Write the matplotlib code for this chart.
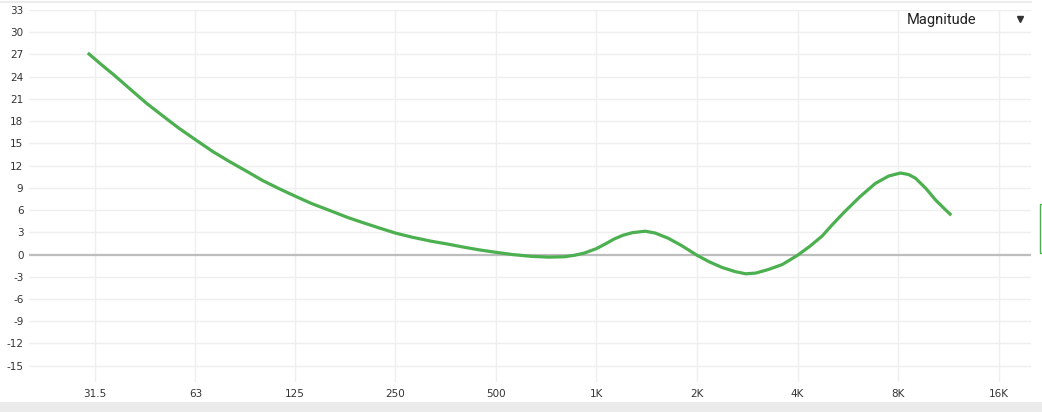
import numpy as np
import matplotlib
matplotlib.use("Agg")
from matplotlib import pyplot as plt
from matplotlib.lines import Line2D
from matplotlib.patches import Rectangle

# frequency response (Hz, dB)
freq = [30, 33, 36, 40, 45, 50, 56, 63, 71, 80, 90, 100, 112, 125, 140, 160,
        180, 200, 225, 250, 280, 320, 360, 400, 450, 500, 560, 640, 720, 800,
        860, 920, 1000, 1070, 1130, 1200, 1280, 1400, 1500, 1640, 1800, 2000,
        2180, 2380, 2600, 2800, 3000, 3280, 3600, 4000, 4350, 4740, 5100,
        5540, 6150, 6840, 7500, 8130, 8600, 9020, 9700, 10340, 11000, 11540]
gain = [27.2, 25.6, 24.2, 22.4, 20.4, 18.8, 17.1, 15.5, 13.9, 12.5, 11.2,
        10.0, 8.9, 7.9, 6.9, 5.9, 5.0, 4.3, 3.55, 2.9, 2.35, 1.8, 1.4, 1.0,
        0.6, 0.3, 0.0, -0.25, -0.35, -0.3, -0.1, 0.2, 0.8, 1.5, 2.1, 2.6, 2.95,
        3.15, 2.9, 2.2, 1.2, -0.1, -1.0, -1.75, -2.3, -2.6, -2.5, -2.0, -1.35,
        -0.1, 1.1, 2.5, 4.1, 5.8, 7.8, 9.6, 10.6, 11.0, 10.8, 10.3, 8.9, 7.4,
        6.2, 5.3]

x_ticks = [31.5, 63, 125, 250, 500, 1000, 2000, 4000, 8000, 16000]
x_labels = ["31.5", "63", "125", "250", "500", "1K", "2K", "4K", "8K", "16K"]
y_ticks = list(range(-15, 34, 3))

W, H = 1042, 412
fig = plt.figure(figsize=(W / 100, H / 100), dpi=100)
ax = fig.add_axes([29 / W, (H - 382) / H, (1031 - 29) / W, (382 - 10) / H])

ax.set_xscale("log")
ax.set_xlim(20, 20000)
ax.set_ylim(-17.2, 33)

# grid
for y in y_ticks:
    if y == 0:
        ax.axhline(y, color="#bdbdbd", lw=1.6, zorder=1)
    else:
        ax.axhline(y, color="#efefef", lw=1, zorder=0)
for x in x_ticks:
    ax.axvline(x, color="#efefef", lw=1, zorder=0)

ax.plot(freq, gain, color="#4caf50", lw=2.3, solid_capstyle="butt",
        solid_joinstyle="round", zorder=3)

ax.set_xticks(x_ticks)
ax.set_xticklabels(x_labels)
ax.xaxis.set_minor_locator(matplotlib.ticker.NullLocator())
ax.set_yticks(y_ticks)
ax.set_yticklabels([str(v) for v in y_ticks])
ax.tick_params(axis="both", length=0, labelsize=7.5, colors="#333333")
ax.tick_params(axis="y", pad=4)
ax.tick_params(axis="x", pad=5)
for s in ax.spines.values():
    s.set_visible(False)

# top border, bottom strip, dropdown, side marker
fig.add_artist(Line2D([0, 1031 / W], [1 - 2 / H, 1 - 2 / H], color="#ececec", lw=1.5))
fig.add_artist(Rectangle((0, 0), 1, 10 / H, color="#ebebeb", lw=0))
fig.text(907 / W, 1 - 20 / H, "Magnitude", family="Roboto", fontsize=10.5,
         color="#222222", va="center", ha="left")
fig.add_artist(Line2D([1020 / W], [1 - 19 / H], marker="v", markersize=5,
                      color="#333333", lw=0))
fig.add_artist(Rectangle((1040 / W, 1 - 253 / H), 5 / W, 49 / H, fill=False,
                         edgecolor="#4caf50", lw=1))

fig.savefig("out.png", dpi=100)
